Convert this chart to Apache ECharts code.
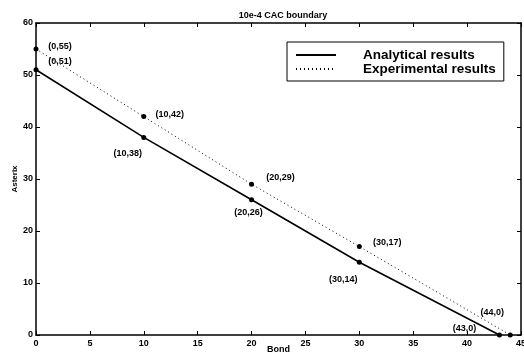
<!DOCTYPE html>
<html><head><meta charset="utf-8">
<script src="https://cdn.jsdelivr.net/npm/echarts@6/dist/echarts.min.js"></script>
<style>html,body{margin:0;padding:0;background:#fff}#c{width:524px;height:357px}</style>
</head><body><div id="c"></div>
<script>
const titleText = '10e-4 CAC boundary';
const xName = 'Bond';
const yName = 'Asterix';
const seriesNames = ['Analytical results', 'Experimental results'];
const analyticalX = [0, 10, 20, 30, 43];
const analyticalY = [51, 38, 26, 14, 0];
const experimentalX = [0, 10, 20, 30, 44];
const experimentalY = [55, 42, 29, 17, 0];
const xTicks = [0, 5, 10, 15, 20, 25, 30, 35, 40, 45];
const yTicks = [0, 10, 20, 30, 40, 50, 60];

// label offsets (layout only)
const analyticalOffsets = [[24, -8], [-16, 16], [-3, 13], [-16, 17], [-35, -6]];
const experimentalOffsets = [[24, -2], [26, -2], [29, -7], [28, -4], [-18, -22]];

const font = 'Liberation Sans';
function buildData(xs, ys, offs) {
  return xs.map((x, i) => ({
    value: [x, ys[i]],
    label: { show: true, position: 'inside', offset: offs[i], formatter: '(' + x + ',' + ys[i] + ')' }
  }));
}
const labelStyle = { color: '#000', fontFamily: font, fontWeight: 'bold', fontSize: 9 };
const axisCommon = {
  type: 'value',
  axisLine: { show: true, onZero: false, lineStyle: { color: '#000', width: 1.5 } },
  axisTick: { show: true, inside: true, length: 4, lineStyle: { color: '#000', width: 1 } },
  splitLine: { show: false }
};
const chart = echarts.init(document.getElementById('c'));
chart.setOption({
  animation: false,
  backgroundColor: '#fff',
  title: { text: titleText, left: 278, textAlign: 'center', top: 6,
    textStyle: { fontFamily: font, fontWeight: 'bold', fontSize: 9, color: '#000' } },
  grid: { left: 36, right: 3, top: 23, bottom: 22, containLabel: false, outerBoundsMode: 'none' },
  legend: {
    data: seriesNames, orient: 'vertical', left: 287, top: 42,
    padding: [6, 8, 5, 8],
    borderColor: '#000', borderWidth: 1, backgroundColor: '#fff',
    itemWidth: 40, itemHeight: 9, itemGap: 0,
    itemStyle: { opacity: 0 },
    textStyle: { fontFamily: font, fontWeight: 'bold', fontSize: 13.5, lineHeight: 10, color: '#000', padding: [0, 0, 0, 22] }
  },
  xAxis: [
    Object.assign({}, axisCommon, { min: 0, max: 45, interval: 5, position: 'bottom',
      name: xName, nameLocation: 'middle', nameGap: 10, nameMoveOverlap: false,
      nameTextStyle: { fontFamily: font, fontWeight: 'bold', fontSize: 9, color: '#000' },
      axisLabel: { fontFamily: font, fontWeight: 'bold', fontSize: 9, color: '#000', margin: 4,
        formatter: v => xTicks.includes(v) ? String(v) : '' } }),
    Object.assign({}, axisCommon, { min: 0, max: 45, interval: 5, position: 'top', axisLabel: { show: false } })
  ],
  yAxis: [
    Object.assign({}, axisCommon, { min: 0, max: 60, interval: 10, position: 'left',
      name: yName, nameLocation: 'middle', nameGap: 17, nameRotate: 90, nameMoveOverlap: false,
      nameTextStyle: { fontFamily: font, fontWeight: 'bold', fontSize: 8, color: '#000' },
      axisLabel: { fontFamily: font, fontWeight: 'bold', fontSize: 9, color: '#000', margin: 3,
        formatter: v => yTicks.includes(v) ? String(v) : '' } }),
    Object.assign({}, axisCommon, { min: 0, max: 60, interval: 10, position: 'right', axisLabel: { show: false } })
  ],
  series: [
    { name: seriesNames[0], type: 'line', data: buildData(analyticalX, analyticalY, analyticalOffsets),
      symbol: 'circle', symbolSize: 5, itemStyle: { color: '#000' },
      lineStyle: { color: '#000', width: 1.6, type: 'solid' }, label: labelStyle },
    { name: seriesNames[1], type: 'line', data: buildData(experimentalX, experimentalY, experimentalOffsets),
      symbol: 'circle', symbolSize: 5, itemStyle: { color: '#000' },
      lineStyle: { color: '#000', width: 1, type: [1, 3] }, label: labelStyle }
  ]
});
</script></body></html>
